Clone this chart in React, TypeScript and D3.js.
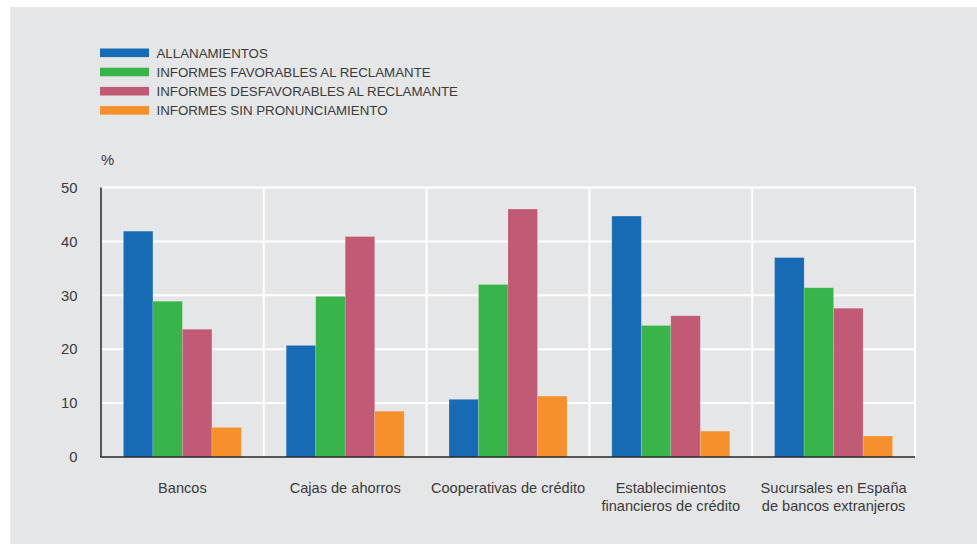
import React from "react";
import * as d3 from "d3";

const categories: string[][] = [
  ["Bancos"],
  ["Cajas de ahorros"],
  ["Cooperativas de crédito"],
  ["Establecimientos", "financieros de crédito"],
  ["Sucursales en España", "de bancos extranjeros"],
];

const seriesNames = [
  "ALLANAMIENTOS",
  "INFORMES FAVORABLES AL RECLAMANTE",
  "INFORMES DESFAVORABLES AL RECLAMANTE",
  "INFORMES SIN PRONUNCIAMIENTO",
];

const allanamientos = [41.9, 20.7, 10.7, 44.7, 37.0];
const favorables = [28.9, 29.8, 32.0, 24.4, 31.4];
const desfavorables = [23.7, 40.9, 46.0, 26.2, 27.6];
const sinPronunciamiento = [5.5, 8.5, 11.3, 4.8, 3.9];

const seriesValues = [allanamientos, favorables, desfavorables, sinPronunciamiento];
const seriesColors = ["#176bb4", "#38b44a", "#c05a75", "#f6902d"];

const yTicks = [0, 10, 20, 30, 40, 50];

const W = 977;
const H = 544;
const plot = { left: 101, right: 915, top: 187.5, bottom: 457 };
const FONT = "'Liberation Sans', Arial, Helvetica, sans-serif";
const TEXT = "#3a3a3a";

export default function App() {
  const catIdx = categories.map((_, i) => String(i));
  const x0 = d3.scaleBand<string>().domain(catIdx).range([plot.left, plot.right]).padding(0);
  const x1 = d3
    .scaleBand<string>()
    .domain(seriesNames)
    .range([0, x0.bandwidth()])
    .paddingInner(0)
    .paddingOuter(0.76);
  const y = d3.scaleLinear().domain([0, 50]).range([plot.bottom, plot.top]);

  const boundaries = catIdx.slice(1).map((c) => x0(c)!).concat([plot.right]);

  return (
    <svg
      width={W}
      height={H}
      style={{ position: "absolute", left: 0, top: 0, display: "block" }}
      fontFamily={FONT}
    >
      <rect x={0} y={0} width={W} height={H} fill="#ffffff" />
      <rect x={10} y={7} width={W - 10} height={H - 7} fill="#e5e6e8" />

      {/* legend */}
      {seriesNames.map((name, i) => (
        <g key={name} transform={`translate(100, ${48.5 + i * 19.2})`}>
          <rect x={0} y={0} width={49} height={8.6} fill={seriesColors[i]} />
          <text x={56.5} y={9.3} fontSize={13.3} fill={TEXT}>
            {name}
          </text>
        </g>
      ))}

      {/* gridlines */}
      {yTicks.slice(1).map((t) => (
        <line
          key={`h${t}`}
          x1={plot.left}
          x2={plot.right}
          y1={y(t)}
          y2={y(t)}
          stroke="#ffffff"
          strokeWidth={2}
        />
      ))}
      {boundaries.map((bx, i) => (
        <line
          key={`v${i}`}
          x1={bx}
          x2={bx}
          y1={plot.top}
          y2={plot.bottom}
          stroke="#ffffff"
          strokeWidth={2}
        />
      ))}

      {/* bars */}
      {categories.map((_, ci) => (
        <g key={ci} transform={`translate(${x0(String(ci))}, 0)`}>
          {seriesNames.map((s, si) => {
            const v = seriesValues[si][ci];
            return (
              <rect
                key={s}
                x={x1(s)!}
                y={y(v)}
                width={x1.bandwidth()}
                height={y(0) - y(v)}
                fill={seriesColors[si]}
                stroke="#ffffff"
                strokeOpacity={0.2}
                strokeWidth={0.8}
              />
            );
          })}
        </g>
      ))}

      {/* axes */}
      <line x1={plot.left} x2={plot.left} y1={plot.top} y2={plot.bottom} stroke="#262626" strokeWidth={1.5} />
      <line x1={plot.left - 0.75} x2={plot.right} y1={plot.bottom} y2={plot.bottom} stroke="#262626" strokeWidth={1.6} />

      {yTicks.map((t) => (
        <text key={`yt${t}`} x={77.5} y={y(t) + 5.2} fontSize={14.8} fill={TEXT} textAnchor="end">
          {t}
        </text>
      ))}
      <text x={101} y={165} fontSize={14.8} fill={TEXT}>
        %
      </text>

      {categories.map((lines, ci) => (
        <text
          key={`xl${ci}`}
          x={x0(String(ci))! + x0.bandwidth() / 2}
          y={493}
          fontSize={14.6}
          fill={TEXT}
          textAnchor="middle"
        >
          {lines.map((ln, li) => (
            <tspan key={li} x={x0(String(ci))! + x0.bandwidth() / 2} dy={li === 0 ? 0 : 17.5}>
              {ln}
            </tspan>
          ))}
        </text>
      ))}
    </svg>
  );
}
